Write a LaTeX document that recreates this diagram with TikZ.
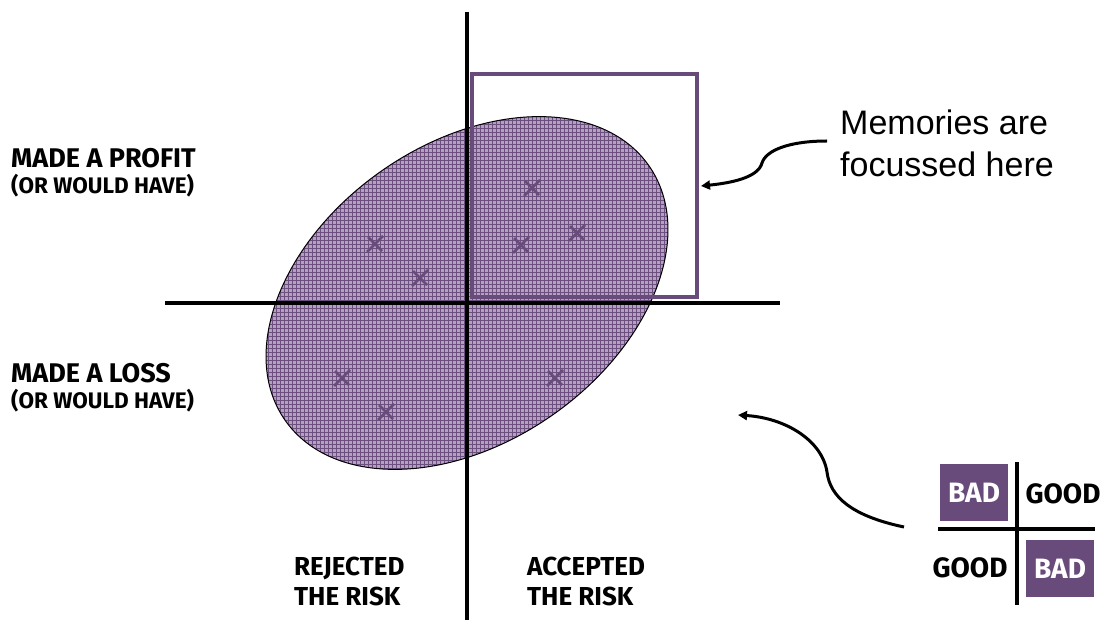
\documentclass[tikz,border=0pt]{standalone}
\usepackage{fontspec}
\setmainfont{Liberation Sans}
\newfontfamily\lblfont{Fira Sans}
\usetikzlibrary{arrows.meta}
\definecolor{plum}{HTML}{694B7B}
\definecolor{lav}{HTML}{B3A1C0}
\definecolor{gridc}{HTML}{6C4F7F}
\tikzset{
  axisline/.style={line width=4pt},
  bigtxt/.style={font=\lblfont\bfseries\fontsize{26}{30}\selectfont, inner sep=0pt, anchor=base west},
  madetxt/.style={font=\lblfont\bfseries\fontsize{27}{30}\selectfont, inner sep=0pt, anchor=base west, text depth=0pt},
  subtxt/.style={font=\lblfont\bfseries\fontsize{22.5}{26}\selectfont, inner sep=0pt, anchor=base west, text height=16pt},
  legtxt/.style={font=\lblfont\bfseries\fontsize{28}{30}\selectfont, inner sep=0pt},
  badbox/.style={fill=plum, text=white, minimum width=68pt, minimum height=57pt, inner sep=0pt, font=\lblfont\bfseries\fontsize{28}{30}\selectfont},
  xmark/.style={draw=plum, line width=2.5pt},
  curvearrow/.style={line width=3pt, -{Triangle[length=9pt,width=9pt]}},
}
\begin{document}
\begin{tikzpicture}[x=1pt,y=-1pt]
\useasboundingbox (0,0) rectangle (1108,620);
% ellipse with grid texture
\fill[lav, rotate around={35:(467,293)}] (467,293) ellipse [x radius=222pt, y radius=149pt];
\begin{scope}
  \clip[rotate around={35:(467,293)}] (467,293) ellipse [x radius=222pt, y radius=149pt];
  \draw[gridc, line width=0.9pt, step=4pt] (240,90) grid (700,500);
\end{scope}
\draw[line width=1pt, rotate around={35:(467,293)}] (467,293) ellipse [x radius=222pt, y radius=149pt];
% focus rectangle
\draw[plum, line width=3.5pt] (472,74) rectangle (697,297);
% crosses
\foreach \px/\py [count=\i] in {532/188, 521/245, 577/233, 375/244, 420/278, 342/378, 386/412, 555/378}{
  \coordinate (c\i) at (\px,\py);
  \draw[xmark] ([shift={(-8,8)}]c\i) -- ([shift={(8,-8)}]c\i);
  \draw[xmark] ([shift={(-7,-7)}]c\i) -- ([shift={(7,7)}]c\i);
}
% axes
\coordinate (vtop) at (467,12);
\coordinate (vbot) at (467,620);
\coordinate (hleft) at (165,303);
\coordinate (hright) at (780,303);
\draw[axisline] (vtop) -- (vbot);
\draw[axisline] (hleft) -- (hright);
% labels
\node[madetxt] (profit) at (11,168) {MADE A PROFIT};
\node[subtxt] (profitsub) at (11,194) {(OR WOULD HAVE)};
\node[madetxt] (loss) at (11,382) {MADE A LOSS};
\node[subtxt] (losssub) at (11,408) {(OR WOULD HAVE)};
\node[bigtxt] (rej1) at (294,575) {REJECTED};
\node[bigtxt] (rej2) at (294,605) {THE RISK};
\node[bigtxt] (acc1) at (527,575) {ACCEPTED};
\node[bigtxt] (acc2) at (527,605) {THE RISK};
% memories text and arrow
\node[anchor=base west, inner sep=0pt, align=left, font=\fontsize{34}{42}\selectfont] (mem) at (840,177) {Memories are\\focussed here};
\coordinate (m1) at (827,141);
\coordinate (m2) at (701,186);
\draw[curvearrow] (m1) .. controls (790,141) and (766,150) .. (762,163) .. controls (758,178) and (730,183) .. (m2);
% legend
\coordinate (ltop) at (1017,462);
\coordinate (lbot) at (1017,605);
\coordinate (lleft) at (938,529);
\coordinate (lright) at (1095,529);
\draw[axisline] (ltop) -- (lbot);
\draw[axisline] (lleft) -- (lright);
\node[badbox] (bad1) at (974,492.5) {BAD};
\node[badbox] (bad2) at (1060,568.5) {BAD};
\node[legtxt] (good1) at (1063,494) {GOOD};
\node[legtxt] (good2) at (970,568) {GOOD};
\coordinate (l1) at (904,527);
\coordinate (l2) at (738,415);
\draw[curvearrow] (l1) .. controls (852,516) and (830,497) .. (827,472) .. controls (822,440) and (785,418) .. (l2);
\end{tikzpicture}
\end{document}
